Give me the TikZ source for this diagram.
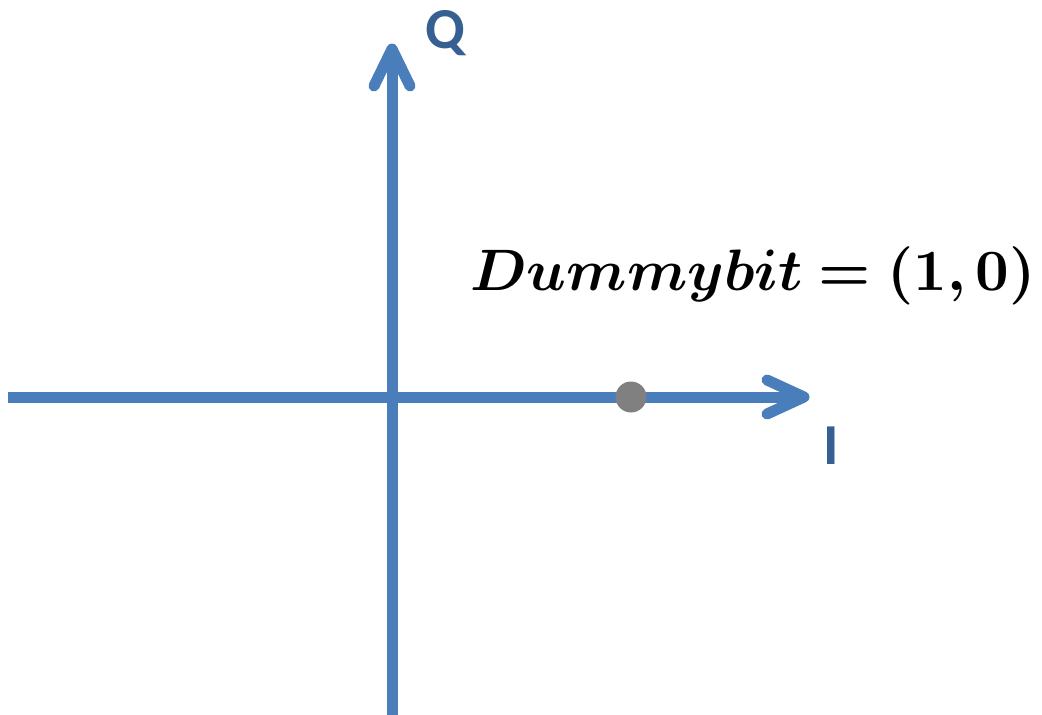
\documentclass[tikz,border=0pt]{standalone}
\usepackage{bm}
\usepackage{graphicx}
\usepackage{fontspec}
\newfontfamily\labfont{Carlito}
\definecolor{axisblue}{HTML}{4A7EBB}
\definecolor{labblue}{HTML}{376092}
\definecolor{dotgray}{HTML}{808080}
\tikzset{
  axis/.style={draw=axisblue, line width=11pt},
  chev/.style={draw=axisblue, line width=11pt, line cap=round, line join=round},
  axlabel/.style={font=\labfont\bfseries\fontsize{58}{60}\selectfont, text=labblue, inner sep=0pt},
}
\begin{document}
\begin{tikzpicture}[x=1pt,y=-1pt]
\useasboundingbox (0,0) rectangle (1042,715);
% horizontal axis
\coordinate (hl) at (8,397);
\coordinate (ht) at (804,397);
\coordinate (ha1) at (767,380);
\coordinate (ha2) at (767,414);
\draw[axis] (hl) -- (ht);
\draw[chev] (ha1) -- (ht) -- (ha2);
% vertical axis
\coordinate (vb) at (392,715);
\coordinate (vt) at (392,49);
\coordinate (va1) at (374,86);
\coordinate (va2) at (410,86);
\draw[axis] (vb) -- (vt);
\draw[chev] (va1) -- (vt) -- (va2);
% dot
\node[circle, fill=dotgray, minimum size=31pt, inner sep=0pt] (dot) at (631,397) {};
% labels
\node[axlabel] (Q) at (445,33) {Q};
\node[axlabel] (I) at (831,446) {I};
\node[anchor=base west, inner sep=0pt] (dummy) at (470,290) {\resizebox{565pt}{!}{$\bm{Dummybit=(1,0)}$}};
\end{tikzpicture}
\end{document}
